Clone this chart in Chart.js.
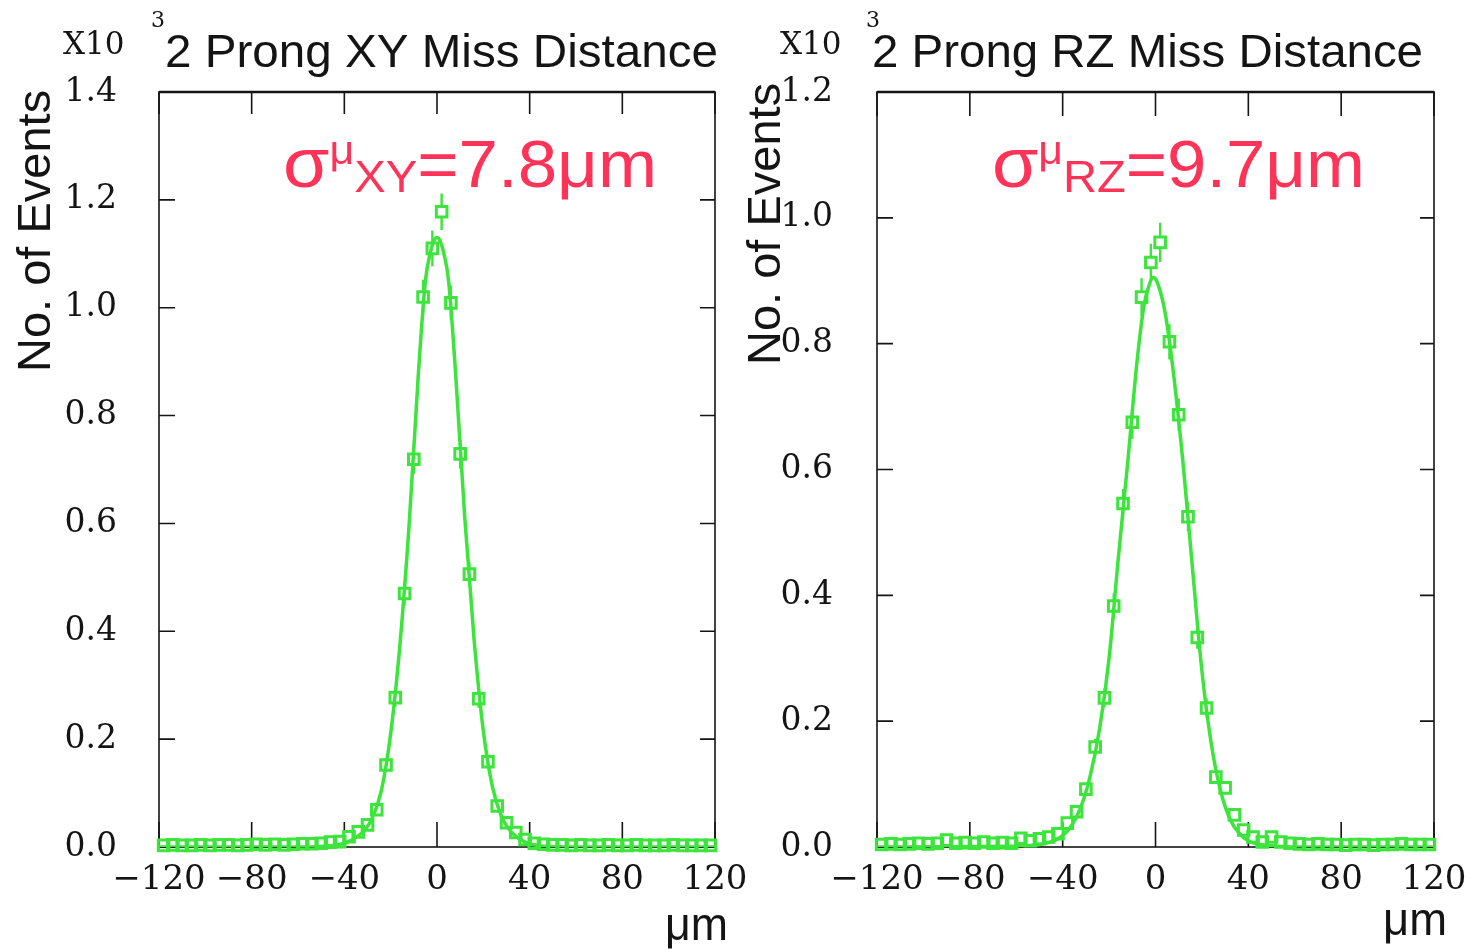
<!DOCTYPE html>
<html>
<head>
<meta charset="utf-8">
<script src="https://cdn.jsdelivr.net/npm/chart.js@4.4.1/dist/chart.umd.min.js"></script>
<style>
  html, body { margin: 0; padding: 0; background: #fff; }
  #wrap { position: relative; width: 1470px; height: 952px; overflow: hidden; background: #fff; }
  #wrap canvas { position: absolute; left: 0; top: 0; }
</style>
</head>
<body>
<div id="wrap">
  <canvas id="xyChart" width="1470" height="952"></canvas>
  <canvas id="rzChart" width="1470" height="952"></canvas>
</div>
<script>
// bin centres (micrometres), 4 um bins
const binCenters = [-118, -114, -110, -106, -102, -98, -94, -90, -86, -82, -78, -74, -70, -66, -62,
  -58, -54, -50, -46, -42, -38, -34, -30, -26, -22, -18, -14, -10, -6, -2,
  2, 6, 10, 14, 18, 22, 26, 30, 34, 38, 42, 46, 50, 54, 58,
  62, 66, 70, 74, 78, 82, 86, 90, 94, 98, 102, 106, 110, 114, 118];

// events per bin, x10^3
const xyCounts = [0.003, 0.004, 0.003, 0.003, 0.004, 0.003, 0.004, 0.004, 0.003, 0.004, 0.005, 0.004, 0.005, 0.004, 0.005,
  0.006, 0.006, 0.007, 0.009, 0.010, 0.019, 0.028, 0.041, 0.069, 0.152, 0.277, 0.470, 0.719, 1.020, 1.110,
  1.178, 1.009, 0.729, 0.506, 0.275, 0.158, 0.076, 0.045, 0.027, 0.014, 0.007, 0.005, 0.004, 0.004, 0.003,
  0.004, 0.003, 0.003, 0.004, 0.003, 0.003, 0.004, 0.003, 0.003, 0.003, 0.004, 0.003, 0.003, 0.003, 0.003];
const xyErrors = [0.002, 0.002, 0.002, 0.002, 0.002, 0.002, 0.002, 0.002, 0.002, 0.002, 0.002, 0.002, 0.002, 0.002, 0.002,
  0.002, 0.002, 0.003, 0.003, 0.003, 0.004, 0.005, 0.006, 0.008, 0.012, 0.017, 0.022, 0.027, 0.032, 0.033,
  0.034, 0.032, 0.027, 0.022, 0.017, 0.013, 0.009, 0.007, 0.005, 0.004, 0.002, 0.002, 0.002, 0.002, 0.002,
  0.002, 0.002, 0.002, 0.002, 0.002, 0.002, 0.002, 0.002, 0.002, 0.002, 0.002, 0.002, 0.002, 0.002, 0.002];

const rzCounts = [0.004, 0.005, 0.004, 0.005, 0.006, 0.005, 0.006, 0.011, 0.006, 0.007, 0.006, 0.008, 0.006, 0.007, 0.006,
  0.014, 0.010, 0.013, 0.016, 0.021, 0.038, 0.056, 0.092, 0.159, 0.237, 0.383, 0.546, 0.675, 0.874, 0.929,
  0.961, 0.803, 0.687, 0.525, 0.333, 0.221, 0.111, 0.094, 0.051, 0.027, 0.016, 0.008, 0.016, 0.008, 0.006,
  0.005, 0.004, 0.005, 0.004, 0.004, 0.003, 0.004, 0.004, 0.003, 0.004, 0.004, 0.005, 0.004, 0.004, 0.004];
const rzErrors = [0.003, 0.003, 0.003, 0.003, 0.003, 0.003, 0.003, 0.003, 0.003, 0.003, 0.003, 0.003, 0.003, 0.003, 0.003,
  0.003, 0.003, 0.003, 0.003, 0.003, 0.006, 0.007, 0.010, 0.013, 0.015, 0.020, 0.023, 0.026, 0.030, 0.030,
  0.031, 0.028, 0.026, 0.023, 0.018, 0.015, 0.011, 0.010, 0.007, 0.005, 0.003, 0.003, 0.003, 0.003, 0.003,
  0.003, 0.003, 0.003, 0.003, 0.003, 0.003, 0.003, 0.003, 0.003, 0.003, 0.003, 0.003, 0.003, 0.003, 0.003];

// fitted curves
const fitX = [-120, -60, -50, -45, -40, -36, -32, -28, -24, -20, -16, -12, -8, -5, -3, -1, 0,
  1, 3, 5, 8, 12, 16, 20, 24, 28, 32, 36, 40, 45, 50, 60, 120];
const xyFit = [0, 0, 0.001, 0.003, 0.007, 0.015, 0.028, 0.053, 0.105, 0.21, 0.375, 0.60, 0.88, 1.05, 1.10, 1.127, 1.13,
  1.127, 1.10, 1.05, 0.88, 0.61, 0.385, 0.215, 0.11, 0.055, 0.028, 0.014, 0.006, 0.002, 0.001, 0, 0];
const rzFit = [0, 0.001, 0.004, 0.008, 0.018, 0.035, 0.065, 0.115, 0.19, 0.30, 0.46, 0.61, 0.77, 0.86, 0.89, 0.905, 0.903,
  0.895, 0.87, 0.83, 0.745, 0.605, 0.44, 0.28, 0.165, 0.09, 0.045, 0.022, 0.01, 0.004, 0.002, 0, 0];

const green = '#3ce43c';
const red = '#ff3358';
const ink = '#141414';
const serif = '"DejaVu Serif", serif';
const sans = '"Liberation Sans", Arial, sans-serif';

// text laid over each panel
const pageTexts = {
  xyChart: {
    plain: [
      { t: 'X10', x: 63, y: 54, font: '31px ' + serif },
      { t: '3', x: 151, y: 27, font: '22px ' + serif },
      { t: '2 Prong XY Miss Distance', x: 165, y: 67, font: '47px ' + sans, end: 718 },
      { t: 'No. of Events', x: 50, y: 372, font: '47px ' + sans, rot: true },
      { t: '\u03BCm', x: 665, y: 940, font: '46px ' + sans, end: 728 },
    ],
    sigma: { x: 283, end: 657, runs: [
      { t: '\u03C3', font: '70px ' + sans, y: 187 },
      { t: '\u03BC', font: '40px ' + sans, y: 164 },
      { t: 'XY', font: '44px ' + sans, y: 192 },
      { t: '=7.8\u03BCm', font: '66px ' + sans, y: 187 },
    ] },
    ticks: { top: 22, bottom: 25, left: 16, right: 15 },
  },
  rzChart: {
    plain: [
      { t: 'X10', x: 780, y: 54, font: '31px ' + serif },
      { t: '3', x: 866, y: 27, font: '22px ' + serif },
      { t: '2 Prong RZ Miss Distance', x: 872, y: 67, font: '47px ' + sans, end: 1423 },
      { t: 'No. of Events', x: 780, y: 365, font: '47px ' + sans, rot: true },
      { t: '\u03BCm', x: 1383, y: 935, font: '46px ' + sans, end: 1447 },
    ],
    sigma: { x: 992, end: 1365, runs: [
      { t: '\u03C3', font: '70px ' + sans, y: 187 },
      { t: '\u03BC', font: '40px ' + sans, y: 164 },
      { t: 'RZ', font: '44px ' + sans, y: 192 },
      { t: '=9.7\u03BCm', font: '66px ' + sans, y: 187 },
    ] },
    ticks: { top: 24, bottom: 25, left: 16, right: 14 },
  },
};

const framePlugin = {
  id: 'frame',
  beforeDatasetsDraw(chart) {
    const cfg = pageTexts[chart.canvas.id].ticks;
    const { ctx, chartArea: a } = chart;
    const x = chart.scales.x, y = chart.scales.y;
    ctx.save();
    ctx.strokeStyle = ink;
    ctx.lineWidth = 1.6;
    ctx.strokeRect(a.left, a.top, a.right - a.left, a.bottom - a.top);
    ctx.lineWidth = 2.4;
    ctx.beginPath();
    ctx.moveTo(a.left, a.top);
    ctx.lineTo(a.right, a.top);
    ctx.stroke();
    ctx.lineWidth = 1.6;
    ctx.beginPath();
    x.ticks.forEach(t => {
      const px = x.getPixelForValue(t.value);
      ctx.moveTo(px, a.top); ctx.lineTo(px, a.top + cfg.top);
      ctx.moveTo(px, a.bottom); ctx.lineTo(px, a.bottom - cfg.bottom);
    });
    y.ticks.forEach(t => {
      const py = y.getPixelForValue(t.value);
      ctx.moveTo(a.left, py); ctx.lineTo(a.left + cfg.left, py);
      ctx.moveTo(a.right, py); ctx.lineTo(a.right - cfg.right, py);
    });
    ctx.stroke();
    ctx.restore();
  },
  afterDatasetsDraw(chart) {
    // error bars on the histogram points, outside the square marker
    const ds = chart.data.datasets[1];
    const x = chart.scales.x, y = chart.scales.y;
    const ctx = chart.ctx;
    const half = 6;
    ctx.save();
    ctx.strokeStyle = green;
    ctx.lineWidth = 2.4;
    ctx.beginPath();
    ds.data.forEach((p, i) => {
      const px = x.getPixelForValue(p.x);
      const py = y.getPixelForValue(p.y);
      const up = y.getPixelForValue(p.y + ds.errors[i]);
      const dn = y.getPixelForValue(p.y - ds.errors[i]);
      if (py - up > half) { ctx.moveTo(px, py - half); ctx.lineTo(px, up); }
      if (dn - py > half) { ctx.moveTo(px, py + half); ctx.lineTo(px, dn); }
    });
    ctx.stroke();
    ctx.restore();
  },
};

// draw text, stretched sideways to the span seen in the scan when an end is given
function spanText(ctx, text, x, y, end) {
  const w = ctx.measureText(text).width;
  ctx.save();
  ctx.translate(x, y);
  if (end) ctx.scale((end - x) / w, 1);
  ctx.fillText(text, 0, 0);
  ctx.restore();
}

const textPlugin = {
  id: 'pageText',
  afterDraw(chart) {
    const spec = pageTexts[chart.canvas.id];
    const ctx = chart.ctx;
    ctx.save();
    ctx.textBaseline = 'alphabetic';
    ctx.textAlign = 'left';
    ctx.fillStyle = ink;
    spec.plain.forEach(it => {
      ctx.font = it.font;
      if (it.rot) {
        ctx.save();
        ctx.translate(it.x, it.y);
        ctx.rotate(-Math.PI / 2);
        ctx.fillText(it.t, 0, 0);
        ctx.restore();
      } else {
        spanText(ctx, it.t, it.x, it.y, it.end);
      }
    });
    // sigma annotation: measure the runs, then stretch them to the scanned width
    const s = spec.sigma;
    let total = 0;
    s.runs.forEach(r => { ctx.font = r.font; total += ctx.measureText(r.t).width; });
    const k = (s.end - s.x) / total;
    ctx.fillStyle = red;
    ctx.translate(s.x, 0);
    ctx.scale(k, 1);
    let cx = 0;
    s.runs.forEach(r => {
      ctx.font = r.font;
      ctx.fillText(r.t, cx, r.y);
      cx += ctx.measureText(r.t).width;
    });
    ctx.restore();
  },
};

function makeChart(id, counts, errors, fit, yMax, padLeft, padRight, yPad) {
  return new Chart(document.getElementById(id), {
    type: 'scatter',
    data: {
      datasets: [
        {
          data: fitX.map((v, i) => ({ x: v, y: fit[i] })),
          showLine: true,
          pointRadius: 0,
          borderColor: green,
          borderWidth: 3.5,
          cubicInterpolationMode: 'monotone',
        },
        {
          data: binCenters.map((v, i) => ({ x: v, y: counts[i] })),
          errors: errors,
          showLine: false,
          pointStyle: 'rect',
          pointRadius: 7.5,
          pointBorderWidth: 3,
          pointBorderColor: green,
          pointBackgroundColor: 'rgba(255,255,255,0)',
          clip: false,
        },
      ],
    },
    options: {
      responsive: false,
      animation: false,
      events: [],
      layout: { padding: { top: 92, left: padLeft, right: padRight, bottom: 0 } },
      plugins: { legend: { display: false }, tooltip: { enabled: false } },
      scales: {
        x: {
          type: 'linear',
          min: -120,
          max: 120,
          grid: { display: false, drawTicks: false },
          border: { display: false },
          ticks: {
            stepSize: 40,
            padding: 13,
            maxRotation: 0,
            autoSkip: false,
            color: ink,
            font: { family: serif, size: 34 },
            callback: v => (v < 0 ? '\u2212' + Math.abs(v) : String(v)),
          },
          afterFit: s => { s.height = 105; s.paddingLeft = 0; s.paddingRight = 0; },
        },
        y: {
          min: 0,
          max: yMax,
          grid: { display: false, drawTicks: false },
          border: { display: false },
          ticks: {
            stepSize: 0.2,
            padding: yPad,
            color: ink,
            font: { family: serif, size: 33 },
            callback: v => v.toFixed(1),
          },
          afterFit: s => { s.width = 159; s.paddingTop = 0; s.paddingBottom = 0; },
        },
      },
    },
    plugins: [framePlugin, textPlugin],
  });
}

makeChart('xyChart', xyCounts, xyErrors, xyFit, 1.4, 0, 1470 - 715, 42);
makeChart('rzChart', rzCounts, rzErrors, rzFit, 1.2, 877 - 159, 1470 - 1434, 44);
</script>
</body>
</html>
